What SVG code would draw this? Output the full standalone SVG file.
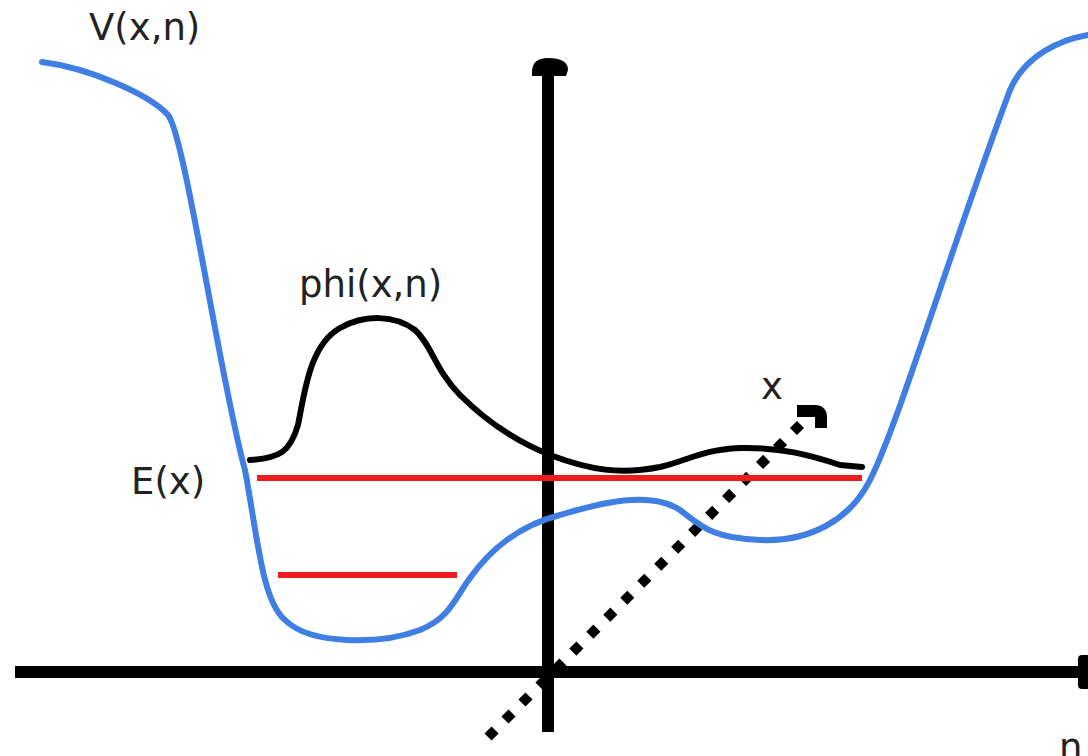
<svg xmlns="http://www.w3.org/2000/svg" width="1088" height="756" viewBox="0 0 1088 756">
<style>
.lbl{font-family:"DejaVu Sans",sans-serif;font-size:37px;fill:#222}
.ax{stroke:#000;stroke-width:12;fill:none}
.blue{stroke:#3f7ee3;stroke-width:6;fill:none;stroke-linecap:round;stroke-linejoin:round}
.phi{stroke:#000;stroke-width:6;fill:none;stroke-linecap:round}
.red{stroke:#ee1c1c;stroke-width:6;fill:none}
</style>
<rect width="1088" height="756" fill="#fff"/>
<g id="connectors">
<g id="axis-n">
<line class="ax" x1="15" y1="672" x2="1084" y2="672"/>
<rect x="1078" y="655" width="14" height="34" rx="4" fill="#000"/>
</g>
<g id="axis-v">
<line class="ax" x1="548" y1="70" x2="548" y2="732"/>
<path d="M532,72 Q532,58 548,58 Q568,58 568,70 L566,76 L532,76 Z" fill="#000"/>
</g>
<g id="axis-x">
<line x1="488" y1="737" x2="806" y2="419" stroke="#000" stroke-width="10" stroke-dasharray="10 14"/>
<path d="M797,411 L815,411 Q821,411 821,417 L821,428" stroke="#000" stroke-width="12" fill="none" stroke-linejoin="round"/>
</g>
</g>
<g id="potential">
<path class="blue" d="M42,62 C90,68 150,95 168,115 C185,135 220,380 245,470 C258,540 262,600 285,620 C310,645 380,645 420,630 C450,618 455,598 470,578 C490,550 520,525 560,515 C600,503 650,490 680,510 C700,525 710,538 760,540 C810,542 850,520 870,480 C900,420 950,250 1010,90 C1025,55 1060,40 1088,35"/>
</g>
<g id="wavefunction">
<path class="phi" d="M250,460 C280,458 290,452 298,425 C305,390 310,345 340,328 C365,314 395,315 415,330 C432,345 435,370 460,395 C490,425 520,443 550,455 C590,470 620,475 660,467 C690,460 700,450 740,448 C780,447 810,455 840,465 L862,467"/>
</g>
<g id="energy-levels">
<line class="red" x1="257" y1="478" x2="862" y2="478"/>
<line class="red" x1="278" y1="575" x2="457" y2="575"/>
</g>
<g id="labels">
<text class="lbl" x="89" y="40">V(x,n)</text>
<text class="lbl" x="299" y="297">phi(x,n)</text>
<text class="lbl" x="131" y="494">E(x)</text>
<text class="lbl" x="761" y="399">x</text>
<text class="lbl" x="1059" y="760">n</text>
</g>
</svg>
